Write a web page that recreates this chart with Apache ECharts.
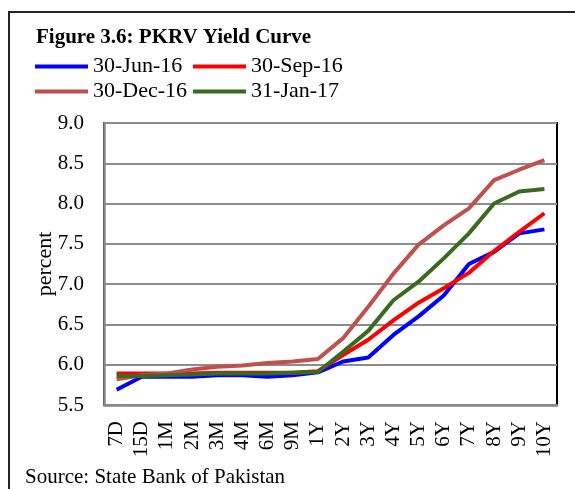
<!DOCTYPE html>
<html>
<head>
<meta charset="utf-8">
<title>PKRV Yield Curve</title>
<script src="https://cdn.jsdelivr.net/npm/echarts@6/dist/echarts.min.js"></script>
<style>
  html, body { margin: 0; padding: 0; background: #fff; }
  #chart { width: 575px; height: 489px; }
</style>
</head>
<body>
<div id="chart"></div>
<script>
// tenors on the x axis
var tenors = ['7D', '15D', '1M', '2M', '3M', '4M', '6M', '9M', '1Y',
  '2Y', '3Y', '4Y', '5Y', '6Y', '7Y', '8Y', '9Y', '10Y']

// PKRV yields, percent
var jun16 = [5.69, 5.85, 5.85, 5.85, 5.87, 5.87, 5.85, 5.87, 5.905, 6.04, 6.09, 6.37, 6.60, 6.86, 7.25, 7.40, 7.63, 7.68]
var sep16 = [5.89, 5.89, 5.89, 5.89, 5.90, 5.90, 5.90, 5.90, 5.92, 6.12, 6.31, 6.55, 6.77, 6.95, 7.14, 7.41, 7.65, 7.88]
var dec16 = [5.82, 5.87, 5.89, 5.94, 5.975, 5.99, 6.02, 6.04, 6.07, 6.33, 6.72, 7.13, 7.49, 7.73, 7.94, 8.29, 8.42, 8.54]
var jan17 = [5.86, 5.86, 5.87, 5.88, 5.89, 5.89, 5.89, 5.90, 5.91, 6.16, 6.42, 6.80, 7.03, 7.32, 7.63, 8.00, 8.15, 8.18]

var seriesNames = ['30-Jun-16', '30-Sep-16', '30-Dec-16', '31-Jan-17']
var seriesColors = ['#0000FF', '#FF0000', '#C0504D', '#3A6A1E']
var seriesData = [jun16, sep16, dec16, jan17]

var serif = '"Liberation Serif", "Times New Roman", serif'

var chart = echarts.init(document.getElementById('chart'))

function legendRow(names, top) {
  return {
    data: names,
    left: 35,
    top: top,
    padding: 0,
    itemGap: 6,
    itemWidth: 53,
    itemHeight: 4,
    icon: 'rect',
    selectedMode: false,
    textStyle: {
      fontFamily: serif,
      fontSize: 22,
      lineHeight: 22,
      color: '#000',
      width: 94
    }
  }
}

chart.setOption({
  animation: false,
  title: {
    text: 'Figure 3.6: PKRV Yield Curve',
    left: 36,
    top: 27,
    padding: 0,
    textStyle: {
      fontFamily: serif,
      fontSize: 21,
      fontWeight: 'bold',
      lineHeight: 22,
      color: '#000'
    }
  },
  legend: [
    legendRow([seriesNames[0], seriesNames[1]], 55.5),
    legendRow([seriesNames[2], seriesNames[3]], 80.5)
  ],
  grid: {
    left: 104,
    right: 18,
    top: 123,
    bottom: 84,
    show: true,
    borderColor: '#000',
    borderWidth: 2
  },
  xAxis: {
    type: 'category',
    data: tenors,
    boundaryGap: true,
    axisTick: { show: false },
    axisLine: { lineStyle: { color: '#888', width: 2.5 } },
    axisLabel: {
      interval: 0,
      rotate: 90,
      margin: 16,
      fontFamily: serif,
      fontSize: 21,
      color: '#000'
    }
  },
  yAxis: {
    type: 'value',
    min: 5.5,
    max: 9,
    interval: 0.5,
    name: 'percent',
    nameLocation: 'middle',
    nameGap: 48,
    nameMoveOverlap: false,
    nameTextStyle: {
      fontFamily: serif,
      fontSize: 22,
      color: '#000'
    },
    axisLine: { show: true, lineStyle: { color: '#888', width: 2.5 } },
    axisTick: { show: false },
    splitLine: { lineStyle: { color: '#8c8c8c', width: 2 } },
    axisLabel: {
      margin: 20,
      fontFamily: serif,
      fontSize: 21,
      color: '#000',
      formatter: function (v) { return v.toFixed(1) }
    }
  },
  series: seriesNames.map(function (name, i) {
    return {
      name: name,
      type: 'line',
      data: seriesData[i],
      color: seriesColors[i],
      showSymbol: false,
      symbol: 'none',
      lineStyle: { color: seriesColors[i], width: 4 }
    }
  }),
  graphic: [
    {
      // outer frame of the figure box
      type: 'rect',
      shape: { x: 9, y: 12, width: 620, height: 600 },
      style: { fill: 'none', stroke: '#222', lineWidth: 2 },
      silent: true
    },
    {
      type: 'text',
      left: 25,
      top: 467,
      style: {
        text: 'Source: State Bank of Pakistan',
        font: '21px ' + serif,
        fill: '#000'
      }
    }
  ]
})
</script>
</body>
</html>
